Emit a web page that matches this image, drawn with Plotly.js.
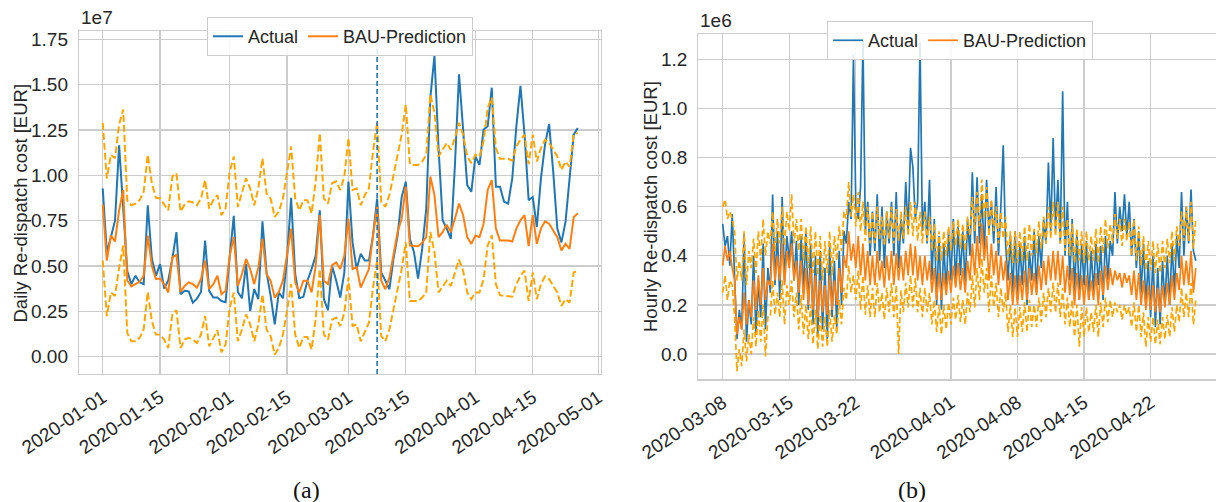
<!DOCTYPE html>
<html>
<head>
<meta charset="utf-8">
<script src="https://cdn.plot.ly/plotly-3.0.1.min.js"></script>
<style>html,body{margin:0;padding:0;background:#fff;}#chart{width:1216px;height:502px;}</style>
</head>
<body>
<div id="chart"></div>
<script>
// ---------- (a) daily data, values in units of 1e7 EUR, starting 2020-01-01 ----------
const dailyStart = '2020-01-01';
const dailyActual = [0.928,0.576,0.66,0.75,1.165,0.80,0.47,0.40,0.446,0.41,0.40,0.835,0.54,0.446,0.51,0.376,0.42,0.54,0.687,0.344,
0.363,0.36,0.298,0.32,0.357,0.64,0.363,0.326,0.326,0.307,0.30,0.55,0.776,0.357,0.322,0.51,0.252,0.372,0.317,0.746,
0.465,0.335,0.178,0.354,0.322,0.54,0.876,0.456,0.322,0.33,0.42,0.483,0.557,0.807,0.317,0.257,0.50,0.42,0.326,0.465,
0.965,0.63,0.483,0.567,0.53,0.53,0.668,0.872,0.465,0.42,0.372,0.54,0.668,0.88,0.965,0.65,0.576,0.43,0.594,0.817,
1.428,1.66,1.15,0.752,0.706,0.65,1.057,1.557,1.243,0.946,0.909,1.104,1.057,1.252,1.27,1.483,0.937,0.937,0.854,0.844,
0.983,1.27,1.493,1.224,0.863,0.88,0.715,0.983,1.169,1.283,1.02,0.706,0.63,0.743,0.983,1.224,1.261];
const dailyPred = [0.839,0.53,0.668,0.635,0.807,0.918,0.42,0.387,0.40,0.413,0.446,0.668,0.50,0.428,0.431,0.40,0.354,0.548,0.561,0.357,
0.39,0.41,0.40,0.381,0.428,0.53,0.372,0.40,0.446,0.344,0.363,0.557,0.66,0.39,0.456,0.539,0.483,0.40,0.493,0.65,
0.456,0.419,0.326,0.357,0.419,0.557,0.706,0.41,0.354,0.419,0.419,0.354,0.50,0.78,0.419,0.40,0.505,0.52,0.483,0.557,
0.761,0.483,0.493,0.381,0.437,0.483,0.668,0.826,0.42,0.372,0.437,0.557,0.687,0.761,0.937,0.613,0.609,0.609,0.628,0.659,
0.993,0.891,0.659,0.687,0.728,0.687,0.761,0.844,0.78,0.659,0.622,0.668,0.659,0.733,0.919,0.974,0.706,0.641,0.641,0.641,
0.635,0.706,0.752,0.78,0.609,0.78,0.622,0.706,0.746,0.733,0.696,0.659,0.585,0.622,0.594,0.77,0.789];
const dailyUpper = [1.289,0.983,1.113,1.094,1.28,1.363,0.86,0.835,0.844,0.863,0.909,1.113,0.956,0.876,0.872,0.839,0.807,0.993,1.011,0.80,
0.839,0.857,0.85,0.835,0.872,0.974,0.817,0.863,0.891,0.78,0.817,1.02,1.104,0.826,0.90,0.983,0.928,0.835,0.928,1.094,
0.90,0.872,0.77,0.80,0.872,1.011,1.159,0.872,0.807,0.863,0.863,0.789,0.965,1.233,0.872,0.844,0.956,0.967,0.919,0.993,
1.206,0.919,0.928,0.835,0.891,0.928,1.131,1.289,0.854,0.826,0.891,1.0,1.122,1.224,1.39,1.061,1.057,1.057,1.076,1.113,
1.446,1.344,1.104,1.141,1.178,1.141,1.206,1.289,1.224,1.104,1.067,1.113,1.104,1.187,1.372,1.428,1.15,1.091,1.091,1.091,
1.08,1.159,1.196,1.224,1.061,1.224,1.076,1.15,1.196,1.178,1.141,1.104,1.03,1.076,1.048,1.224,1.233];
const dailyLower = [0.53,0.224,0.354,0.335,0.49,0.613,0.13,0.085,0.085,0.104,0.15,0.357,0.196,0.122,0.122,0.094,0.048,0.233,0.257,0.048,
0.094,0.104,0.094,0.076,0.122,0.224,0.057,0.104,0.146,0.024,0.067,0.27,0.354,0.085,0.15,0.233,0.178,0.085,0.178,0.344,
0.15,0.113,0.011,0.048,0.122,0.252,0.40,0.122,0.048,0.109,0.109,0.039,0.206,0.483,0.122,0.094,0.204,0.215,0.169,0.243,
0.437,0.169,0.178,0.085,0.141,0.187,0.381,0.53,0.113,0.085,0.15,0.261,0.354,0.483,0.631,0.307,0.307,0.307,0.326,0.354,
0.687,0.576,0.354,0.39,0.419,0.39,0.465,0.535,0.474,0.354,0.317,0.354,0.354,0.428,0.613,0.669,0.40,0.339,0.335,0.335,
0.331,0.40,0.446,0.474,0.307,0.465,0.317,0.40,0.443,0.428,0.39,0.354,0.28,0.317,0.298,0.465,0.474];
const vlineDate = '2020-03-08';
const dailyTickVals = ['2020-01-01','2020-01-15','2020-02-01','2020-02-15','2020-03-01','2020-03-15','2020-04-01','2020-04-15','2020-05-01'];
const dailyYTicks = [0,0.25,0.5,0.75,1.0,1.25,1.5,1.75];

// ---------- (b) hourly data sampled every 6 h, values in units of 1e6 EUR, starting 2020-03-08 00:00 ----------
const hourlyStart = '2020-03-08T00:00:00';
const hourlyStepHours = 6;
const hourlyActual = [
0.53,0.44,0.48,0.36, 0.57,0.30,0.06,0.18, 0.10,0.49,0.05,0.22, 0.12,0.40,0.08,0.30, 0.15,0.45,0.10,0.35,
0.25,0.65,0.28,0.50, 0.22,0.64,0.30,0.48, 0.38,0.50,0.30,0.46, 0.20,0.48,0.25,0.50, 0.18,0.45,0.12,0.40,
0.07,0.42,0.10,0.35, 0.06,0.45,0.15,0.38, 0.10,0.42,0.20,0.50, 0.45,0.62,0.55,1.22, 0.60,0.55,0.68,1.28,
0.50,0.62,0.40,0.58, 0.42,0.65,0.38,0.60, 0.35,0.58,0.45,0.62, 0.40,0.66,0.35,0.55, 0.45,0.70,0.50,0.84,
0.76,0.55,0.62,1.27, 0.50,0.62,0.45,0.71, 0.30,0.55,0.20,0.48, 0.18,0.45,0.25,0.50, 0.30,0.55,0.28,0.52,
0.32,0.50,0.28,0.55, 0.40,0.74,0.45,0.72, 0.45,0.65,0.40,0.71, 0.50,0.62,0.45,0.68, 0.40,0.60,0.85,0.45,
0.30,0.48,0.25,0.50, 0.22,0.45,0.28,0.48, 0.20,0.42,0.30,0.50, 0.25,0.48,0.35,0.55, 0.45,0.78,0.50,0.88,
0.50,0.71,0.45,1.07, 0.40,0.62,0.30,0.55, 0.25,0.50,0.22,0.45, 0.28,0.46,0.22,0.42, 0.25,0.45,0.28,0.44,
0.22,0.48,0.30,0.46, 0.40,0.66,0.45,0.60, 0.50,0.65,0.48,0.62, 0.40,0.55,0.35,0.50, 0.25,0.45,0.20,0.38,
0.15,0.40,0.11,0.35, 0.12,0.38,0.20,0.40, 0.20,0.45,0.25,0.48, 0.35,0.66,0.40,0.60, 0.45,0.67,0.42,0.38];
const hourlyPred = [
0.36,0.44,0.38,0.42, 0.35,0.30,0.08,0.15, 0.10,0.25,0.12,0.22, 0.15,0.30,0.18,0.32, 0.20,0.35,0.22,0.30,
0.28,0.45,0.30,0.40, 0.30,0.45,0.28,0.42, 0.35,0.45,0.30,0.38, 0.25,0.38,0.22,0.35, 0.20,0.35,0.18,0.32,
0.15,0.30,0.17,0.28, 0.16,0.32,0.18,0.30, 0.20,0.35,0.25,0.40, 0.35,0.50,0.38,0.45, 0.35,0.48,0.32,0.45,
0.30,0.42,0.28,0.40, 0.28,0.42,0.30,0.38, 0.27,0.40,0.30,0.42, 0.28,0.41,0.30,0.40, 0.30,0.42,0.32,0.45,
0.32,0.44,0.30,0.40, 0.28,0.40,0.30,0.38, 0.25,0.35,0.22,0.33, 0.22,0.33,0.24,0.34, 0.25,0.36,0.27,0.37,
0.26,0.35,0.25,0.38, 0.30,0.45,0.32,0.48, 0.35,0.53,0.38,0.48, 0.30,0.45,0.32,0.42, 0.28,0.40,0.30,0.38,
0.22,0.33,0.20,0.32, 0.20,0.32,0.22,0.34, 0.22,0.35,0.24,0.33, 0.24,0.36,0.26,0.38, 0.28,0.40,0.30,0.42,
0.30,0.42,0.28,0.40, 0.25,0.36,0.24,0.35, 0.20,0.33,0.22,0.32, 0.20,0.32,0.22,0.30, 0.22,0.33,0.20,0.34,
0.24,0.36,0.26,0.35, 0.28,0.34,0.30,0.33, 0.27,0.33,0.29,0.32, 0.24,0.34,0.22,0.33, 0.20,0.30,0.18,0.28,
0.18,0.28,0.17,0.27, 0.17,0.28,0.19,0.29, 0.20,0.32,0.22,0.33, 0.26,0.40,0.28,0.38, 0.28,0.42,0.25,0.35];
const hourlyUpper = [
0.60,0.63,0.55,0.58, 0.55,0.50,0.30,0.38, 0.30,0.50,0.28,0.42, 0.35,0.47,0.33,0.50, 0.38,0.55,0.40,0.50,
0.45,0.58,0.42,0.55, 0.45,0.60,0.44,0.58, 0.50,0.65,0.45,0.55, 0.42,0.55,0.38,0.52, 0.35,0.52,0.33,0.50,
0.32,0.48,0.30,0.46, 0.33,0.50,0.32,0.48, 0.38,0.52,0.42,0.58, 0.55,0.70,0.56,0.65, 0.52,0.66,0.50,0.62,
0.46,0.60,0.45,0.58, 0.45,0.60,0.47,0.56, 0.44,0.58,0.47,0.60, 0.45,0.59,0.46,0.58, 0.47,0.60,0.48,0.62,
0.48,0.62,0.46,0.58, 0.45,0.58,0.46,0.56, 0.42,0.53,0.38,0.50, 0.38,0.50,0.40,0.52, 0.42,0.54,0.44,0.55,
0.43,0.53,0.42,0.56, 0.48,0.64,0.50,0.66, 0.52,0.71,0.55,0.68, 0.48,0.63,0.50,0.60, 0.45,0.58,0.47,0.56,
0.38,0.50,0.37,0.50, 0.37,0.50,0.38,0.52, 0.38,0.53,0.40,0.51, 0.41,0.54,0.43,0.56, 0.45,0.60,0.47,0.62,
0.48,0.62,0.45,0.60, 0.42,0.55,0.40,0.53, 0.37,0.51,0.38,0.50, 0.37,0.50,0.38,0.48, 0.38,0.51,0.37,0.52,
0.41,0.55,0.43,0.53, 0.45,0.57,0.47,0.55, 0.44,0.55,0.46,0.54, 0.40,0.55,0.38,0.52, 0.36,0.48,0.34,0.46,
0.34,0.46,0.33,0.45, 0.33,0.46,0.35,0.47, 0.37,0.50,0.38,0.52, 0.44,0.58,0.46,0.60, 0.46,0.62,0.43,0.55];
const hourlyLower = [
0.25,0.32,0.22,0.30, 0.28,0.15,-0.07,0.02, -0.05,0.10,-0.03,0.08, 0.00,0.15,0.03,0.18, 0.05,0.20,-0.01,0.15,
0.15,0.30,0.16,0.25, 0.15,0.30,0.12,0.28, 0.20,0.30,0.15,0.25, 0.10,0.24,0.08,0.20, 0.06,0.20,0.04,0.18,
0.02,0.16,0.03,0.15, 0.03,0.18,0.05,0.16, 0.08,0.22,0.12,0.27, 0.22,0.36,0.25,0.32, 0.22,0.34,0.18,0.32,
0.16,0.28,0.15,0.27, 0.15,0.29,0.17,0.25, 0.14,0.27,0.17,0.29, 0.15,0.28,0.00,0.26, 0.17,0.29,0.19,0.32,
0.19,0.31,0.17,0.27, 0.15,0.27,0.17,0.25, 0.12,0.22,0.09,0.20, 0.08,0.20,0.10,0.21, 0.12,0.23,0.14,0.24,
0.13,0.22,0.12,0.25, 0.17,0.32,0.19,0.35, 0.22,0.39,0.25,0.35, 0.17,0.32,0.19,0.29, 0.15,0.27,0.17,0.25,
0.09,0.20,0.07,0.19, 0.07,0.19,0.09,0.21, 0.09,0.22,0.11,0.20, 0.11,0.23,0.13,0.25, 0.15,0.27,0.17,0.29,
0.17,0.29,0.15,0.27, 0.12,0.23,0.11,0.22, 0.07,0.20,0.03,0.19, 0.07,0.19,0.09,0.17, 0.09,0.20,0.07,0.21,
0.11,0.23,0.13,0.22, 0.15,0.21,0.17,0.20, 0.14,0.20,0.16,0.19, 0.11,0.21,0.09,0.20, 0.07,0.17,0.03,0.15,
0.05,0.15,0.04,0.14, 0.04,0.15,0.06,0.16, 0.07,0.19,0.09,0.20, 0.13,0.27,0.15,0.25, 0.15,0.29,0.12,0.22];
const hourlyTickVals = ['2020-03-08','2020-03-15','2020-03-22','2020-04-01','2020-04-08','2020-04-15','2020-04-22'];
const hourlyYTicks = [0,0.2,0.4,0.6,0.8,1.0,1.2];

// ---------- build x values ----------
function dayDates(start, n) {
  const out = []; const t0 = new Date(start + 'T00:00:00Z').getTime();
  for (let i = 0; i < n; i++) out.push(new Date(t0 + i * 86400000).toISOString().slice(0, 10));
  return out;
}
function stepTimes(start, n, hours) {
  const out = []; const t0 = new Date(start + 'Z').getTime();
  for (let i = 0; i < n; i++) out.push(new Date(t0 + i * hours * 3600000).toISOString().slice(0, 16).replace('T', ' '));
  return out;
}
const dx = dayDates(dailyStart, dailyActual.length);
const hx = stepTimes(hourlyStart, hourlyActual.length, hourlyStepHours);

const BLUE = '#1f77b4', ORANGE = '#ff7f0e', BAND = '#ffa500';
const traces = [
  {x: dx, y: dailyActual, type: 'scatter', mode: 'lines', name: 'Actual', line: {color: BLUE, width: 2}, xaxis: 'x', yaxis: 'y', legend: 'legend'},
  {x: dx, y: dailyPred, type: 'scatter', mode: 'lines', name: 'BAU-Prediction', line: {color: ORANGE, width: 2}, xaxis: 'x', yaxis: 'y', legend: 'legend'},
  {x: dx, y: dailyUpper, type: 'scatter', mode: 'lines', showlegend: false, line: {color: BAND, width: 2, dash: '7px,3px'}, xaxis: 'x', yaxis: 'y'},
  {x: dx, y: dailyLower, type: 'scatter', mode: 'lines', showlegend: false, line: {color: BAND, width: 2, dash: '7px,3px'}, xaxis: 'x', yaxis: 'y'},
  {x: hx, y: hourlyActual, type: 'scatter', mode: 'lines', name: 'Actual', line: {color: BLUE, width: 1.7}, xaxis: 'x2', yaxis: 'y2', legend: 'legend2'},
  {x: hx, y: hourlyPred, type: 'scatter', mode: 'lines', name: 'BAU-Prediction', line: {color: ORANGE, width: 1.7}, xaxis: 'x2', yaxis: 'y2', legend: 'legend2'},
  {x: hx, y: hourlyUpper, type: 'scatter', mode: 'lines', showlegend: false, line: {color: BAND, width: 1.7, dash: '6px,3px'}, xaxis: 'x2', yaxis: 'y2'},
  {x: hx, y: hourlyLower, type: 'scatter', mode: 'lines', showlegend: false, line: {color: BAND, width: 1.7, dash: '6px,3px'}, xaxis: 'x2', yaxis: 'y2'}
];

const GRID = '#cccccc';
const axBase = {showgrid: true, gridcolor: GRID, gridwidth: 1.2, zeroline: false, showline: true, linecolor: GRID, linewidth: 1.2, ticks: '', tickfont: {size: 19, color: '#262626'}};
const legBase = {orientation: 'h', xanchor: 'center', yanchor: 'top', bgcolor: 'rgba(255,255,255,0.85)', bordercolor: '#cccccc', borderwidth: 1, font: {size: 18, color: '#262626'}, tracegroupgap: 0};

const layout = {
  width: 1216, height: 502, margin: {l: 0, r: 0, t: 0, b: 0},
  paper_bgcolor: '#ffffff', plot_bgcolor: '#ffffff',
  font: {family: 'Liberation Sans, Arial, sans-serif', size: 18, color: '#262626'},
  showlegend: true,
  xaxis: Object.assign({}, axBase, {domain: [0.06497, 0.49424], anchor: 'y', type: 'date', range: ['2019-12-26 05:00', '2020-05-01 16:00'],
    tickmode: 'array', tickvals: dailyTickVals, ticktext: dailyTickVals, tickangle: -34, mirror: true, ticklabelstandoff: 4}),
  yaxis: Object.assign({}, axBase, {domain: [0.2550, 0.93825], anchor: 'x', range: [-0.0954, 1.7955],
    tickmode: 'array', tickvals: dailyYTicks, tickformat: '.2f', mirror: true, ticklabelstandoff: 6}),
  xaxis2: Object.assign({}, axBase, {domain: [0.57426, 1], anchor: 'y2', type: 'date', range: ['2020-03-05 10:25', '2020-04-28 21:00'],
    tickmode: 'array', tickvals: hourlyTickVals, ticktext: hourlyTickVals, tickangle: -34, mirror: true, ticklabelstandoff: 4}),
  yaxis2: Object.assign({}, axBase, {domain: [0.24442, 0.93167], anchor: 'x2', range: [-0.103, 1.302],
    tickmode: 'array', tickvals: hourlyYTicks, tickformat: '.1f', mirror: false, ticklabelstandoff: 6}),
  legend: Object.assign({}, legBase, {x: 0.2796, y: 0.966}),
  legend2: Object.assign({}, legBase, {x: 0.7895, y: 0.958}),
  shapes: [
    {type: 'line', xref: 'x', yref: 'y domain', x0: vlineDate, x1: vlineDate, y0: 0, y1: 0.953, line: {color: BLUE, width: 1.6, dash: '5px,3px'}, layer: 'above'}
  ],
  annotations: [
    {text: 'Daily Re-dispatch cost [EUR]', xref: 'paper', yref: 'paper', x: 19.5 / 1216, y: 1 - 203 / 502, textangle: -90, showarrow: false, xanchor: 'center', yanchor: 'middle', font: {size: 18.5, color: '#262626'}},
    {text: 'Hourly Re-dispatch cost [EUR]', xref: 'paper', yref: 'paper', x: 650 / 1216, y: 1 - 207 / 502, textangle: -90, showarrow: false, xanchor: 'center', yanchor: 'middle', font: {size: 18.5, color: '#262626'}},
    {text: '1e7', xref: 'paper', yref: 'paper', x: 79 / 1216, y: 1 - 30 / 502, showarrow: false, xanchor: 'left', yanchor: 'bottom', font: {size: 19, color: '#262626'}},
    {text: '1e6', xref: 'paper', yref: 'paper', x: 698 / 1216, y: 1 - 33 / 502, showarrow: false, xanchor: 'left', yanchor: 'bottom', font: {size: 19, color: '#262626'}},
    {text: '(a)', xref: 'paper', yref: 'paper', x: 306 / 1216, y: 1 - 490 / 502, showarrow: false, xanchor: 'center', yanchor: 'middle', font: {family: 'Liberation Serif, serif', size: 24, color: '#111111'}},
    {text: '(b)', xref: 'paper', yref: 'paper', x: 912 / 1216, y: 1 - 490 / 502, showarrow: false, xanchor: 'center', yanchor: 'middle', font: {family: 'Liberation Serif, serif', size: 24, color: '#111111'}}
  ]
};

Plotly.newPlot('chart', traces, layout, {displayModeBar: false, staticPlot: true});
</script>
</body>
</html>
